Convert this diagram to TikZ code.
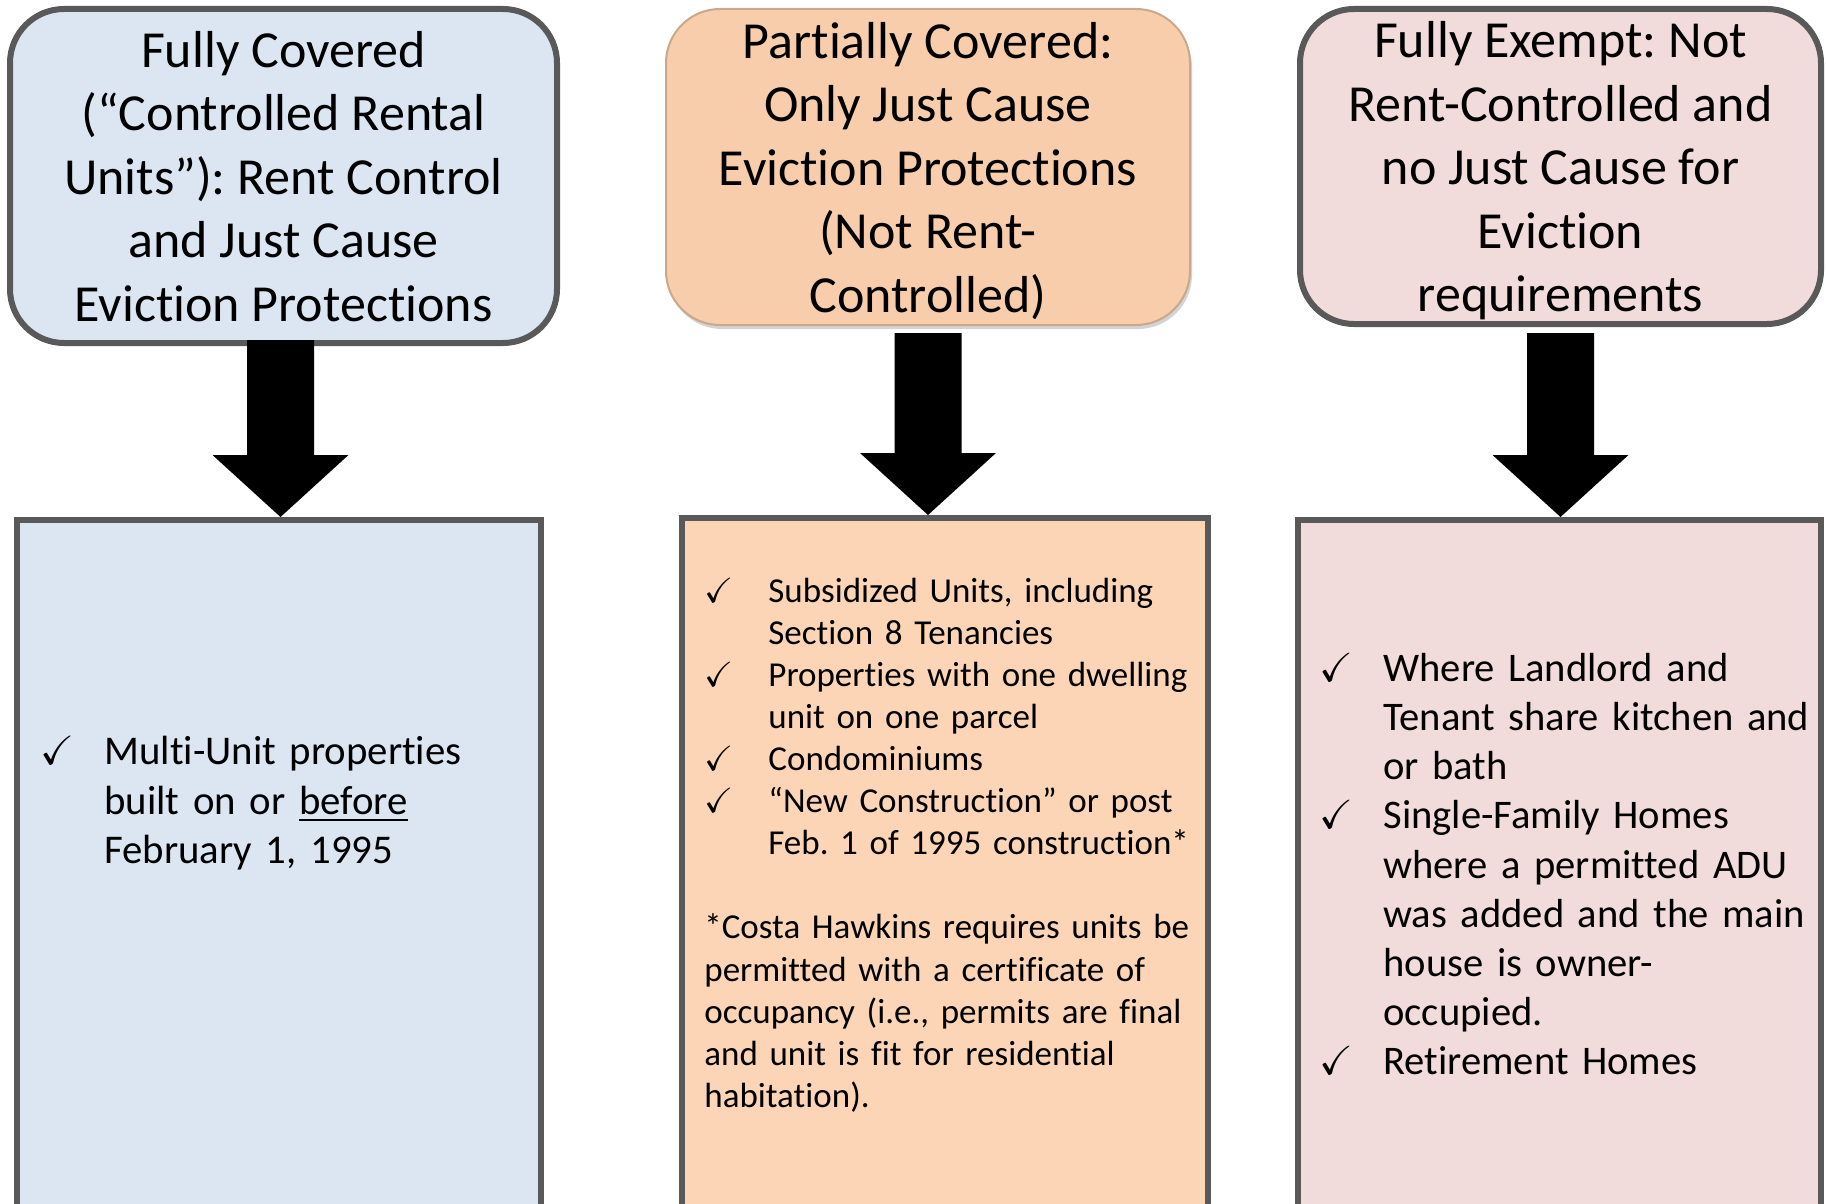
\documentclass[tikz,border=0pt]{standalone}
\usepackage{amssymb}
\usepackage{fontspec}
\setmainfont{Carlito}[Ligatures=TeX,RawFeature={-liga;-clig;-dlig;-calt;-rlig}]
\frenchspacing
\usetikzlibrary{calc,shadows}
\definecolor{boxline}{HTML}{595959}
\definecolor{bluefill}{HTML}{DCE6F2}
\definecolor{peachtop}{HTML}{F7CDAB}
\definecolor{peachedge}{HTML}{C9A88C}
\definecolor{peachfill}{HTML}{FBD5B5}
\definecolor{pinkfill}{HTML}{F2DCDB}
\newcommand{\chkitem}[1]{\par\noindent\hangindent=32pt\hangafter=1\makebox[32pt][l]{$\checkmark$}#1}
\begin{document}
\begin{tikzpicture}[x=0.5pt,y=-0.5pt,
  head/.style={rounded corners=27pt,outer sep=0pt,inner sep=1pt,align=center,text depth=0pt,font=\fontsize{26}{31.75}\selectfont},
  list/.style={draw=boxline,line width=3pt,outer sep=0pt,anchor=north,minimum height=380pt},
  items/.style={anchor=base west,inner sep=0pt,align=left,text width=255pt}]
\clip(0,0)rectangle(1826,1204);
% category headers
\node[head,draw=boxline,line width=3pt,fill=bluefill,minimum width=273.5pt,minimum height=167pt](t1)at(283.5,176){Fully Covered\\(“Controlled Rental\\Units”): Rent Control\\and Just Cause\\Eviction Protections};
\node[head,draw=peachedge,line width=1pt,fill=peachtop,drop shadow={shadow xshift=1pt,shadow yshift=-2pt,opacity=.35},minimum width=262pt,minimum height=158pt](t2)at(928,167){Partially Covered:\\Only Just Cause\\Eviction Protections\\(Not Rent-\\Controlled)};
\node[head,draw=boxline,line width=3pt,fill=pinkfill,minimum width=260.5pt,minimum height=157.5pt](t3)at(1560.5,166.5){Fully Exempt: Not\\Rent-Controlled and\\no Just Cause for\\Eviction\\requirements};
% lists
\node[list,fill=bluefill,minimum width=262pt](b1)at(279,520){};
\node[list,fill=peachfill,minimum width=263pt](b2)at(945,518){};
\node[list,fill=pinkfill,minimum width=261.5pt](b3)at(1559.5,520){};
\node[items,font=\fontsize{20.4}{24.75}\selectfont](l1)at(40,715){\chkitem{Multi-Unit properties\newline built on or \underline{before}\newline February 1, 1995}\par};
\node[items,font=\fontsize{17.5}{21.05}\selectfont](l2)at(704,560){%
\chkitem{Subsidized Units, including\newline Section 8 Tenancies}
\chkitem{Properties with one dwelling\newline unit on one parcel}
\chkitem{Condominiums}
\chkitem{“New Construction” or post\newline Feb. 1 of 1995 construction*}
\par\vspace{21.05pt}\noindent*Costa Hawkins requires units be\newline permitted with a certificate of\newline occupancy (i.e., permits are final\newline and unit is fit for residential\newline habitation).\par};
\node[items,font=\fontsize{20.3}{24.6}\selectfont](l3)at(1319,632){%
\chkitem{Where Landlord and\newline Tenant share kitchen and\newline or bath}
\chkitem{Single-Family Homes\newline where a permitted ADU\newline was added and the main\newline house is owner-\newline occupied.}
\chkitem{Retirement Homes}\par};
% block arrows
\foreach\a/\b/\g/\d in{t1/b1/-3/-3,t2/b2/8/0,t3/b3/9/0}{
\fill($(\a.south)+(\d-33.5,\g)$)--($(\a.south)+(\d+33.5,\g)$)--($(\a.south|-\b.north)+(\d+33.5,-65)$)--($(\a.south|-\b.north)+(\d+68,-65)$)--($(\a.south|-\b.north)+(\d,-3)$)--($(\a.south|-\b.north)+(\d-68,-65)$)--($(\a.south|-\b.north)+(\d-33.5,-65)$)--cycle;}
\end{tikzpicture}
\end{document}
